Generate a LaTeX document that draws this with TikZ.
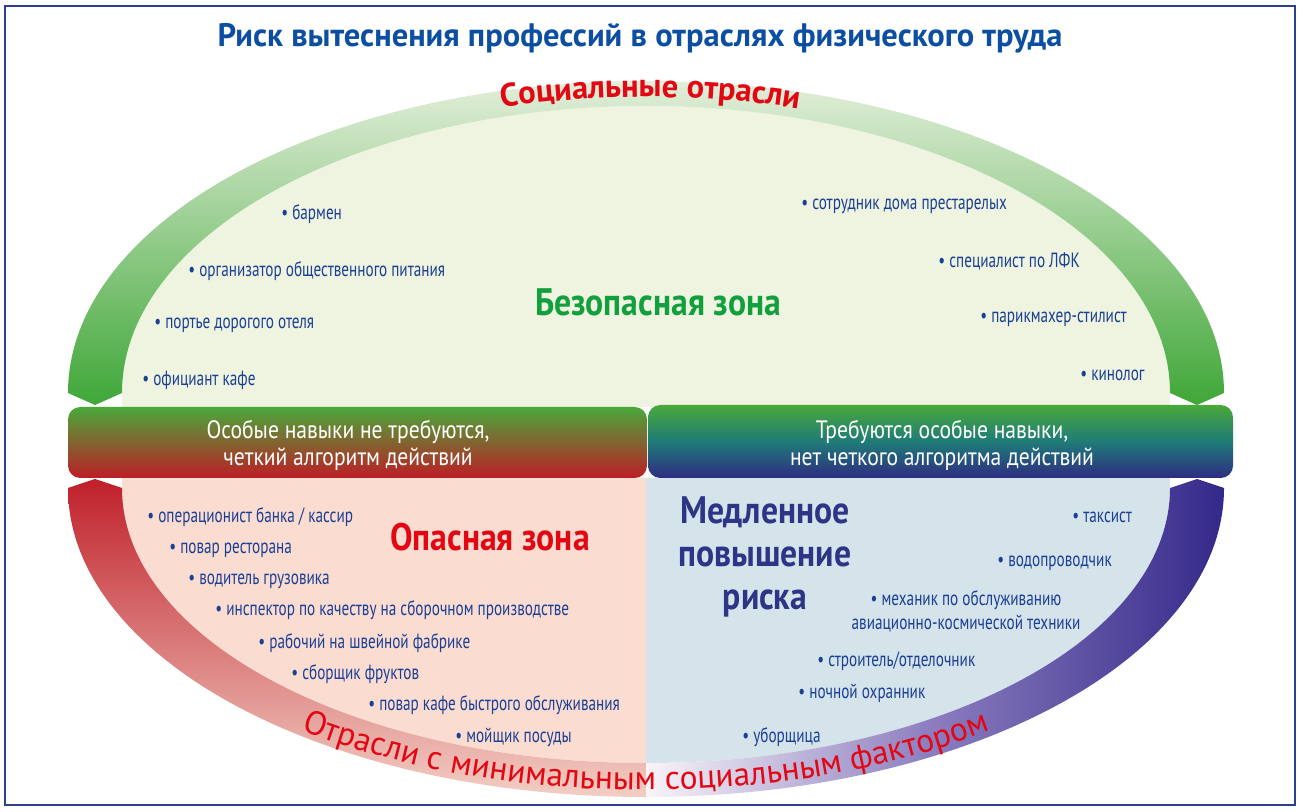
\documentclass[tikz,border=0pt]{standalone}
\usepackage{fontspec}
\setmainfont{PT Sans}
\newfontfamily\narrowfont[FakeStretch=0.74]{PT Sans}
\newfontfamily\barfont[FakeStretch=0.86]{PT Sans}
\newfontfamily\zonefont[FakeStretch=0.88]{PT Sans}
\usetikzlibrary{calc,%
                decorations.text}

\definecolor{titleblue}{HTML}{0B4EA2}
\definecolor{jobblue}{HTML}{1B3F94}
\definecolor{frameblue}{HTML}{2E3F8E}
\definecolor{arcred}{HTML}{E30613}
\definecolor{safegreen}{HTML}{12A03C}
\definecolor{slownavy}{HTML}{2E3586}
\definecolor{safefill}{HTML}{EEF4E0}
\definecolor{dangerfill}{HTML}{FADCD0}
\definecolor{slowfill}{HTML}{D5E3EA}
\definecolor{bandlight}{HTML}{E2EEDA}
\definecolor{bandgreen}{HTML}{3FA737}
\definecolor{bargreen}{HTML}{4AA83A}
\definecolor{barred}{HTML}{BC1E26}
\definecolor{barteal}{HTML}{1F7B78}
\definecolor{barnavy}{HTML}{2E2C82}
\definecolor{dangerred}{HTML}{C0202A}
\definecolor{dangerpale}{HTML}{F2CEC4}
\definecolor{lilacpale}{HTML}{F8F4F8}
\definecolor{lilacmid}{HTML}{8A7CBE}
\definecolor{slowpurple}{HTML}{34298A}

\begin{document}
\begin{tikzpicture}[x=0.02cm,y=0.02cm]
  \tikzstyle{job}=[anchor=base west,inner sep=0pt,text=jobblue,font=\narrowfont\fontsize{11.7}{13.6}\selectfont]
  \tikzstyle{skilltext}=[align=center,inner sep=0pt,text=white,font=\barfont\fontsize{14.3}{15.3}\selectfont]
  \tikzstyle{zonelabel}=[align=center,inner sep=0pt,font=\zonefont\bfseries\fontsize{21.8}{24.4}\selectfont]
  \useasboundingbox (0,0) rectangle (1300,811);
  \draw[frameblue,line width=0.9pt] (5,6) rectangle (1295,805);
  \node[text=titleblue,font=\bfseries\fontsize{18.5}{21}\selectfont] (title) at (640,773)
    {Риск вытеснения профессий в отраслях физического труда};
  \coordinate (topc) at (646,418);
  \coordinate (botc) at (646,323);
  % zone fills
  \fill[safefill] (122,404) -- (122,418) arc[start angle=180,end angle=0,x radius=524,y radius=287] -- (1170,404) -- cycle;
  \fill[dangerfill] (122,333) -- (122,323) arc[start angle=180,end angle=270,x radius=524,y radius=275] -- (646,333) -- cycle;
  \fill[slowfill] (646,333) -- (646,48) arc[start angle=270,end angle=360,x radius=524,y radius=275] -- (1170,333) -- cycle;
  % arrow bands
  \shade[top color=bandlight,bottom color=bandgreen]
    (68,418) arc[start angle=180,end angle=0,x radius=578,y radius=312]
    -- (1197,406) -- (1170,418)
    arc[start angle=0,end angle=180,x radius=524,y radius=287]
    -- (95,406) -- cycle;
  \shade[top color=dangerred,bottom color=dangerpale]
    (122,323) -- (95,332) -- (68,323)
    arc[start angle=180,end angle=270,x radius=578,y radius=309]
    -- (646,48)
    arc[start angle=270,end angle=180,x radius=524,y radius=275]
    -- cycle;
  \shade[left color=lilacpale,right color=slowpurple,middle color=lilacmid]
    (646,14) arc[start angle=270,end angle=360,x radius=578,y radius=309]
    -- (1197,332) -- (1170,323)
    arc[start angle=0,end angle=-90,x radius=524,y radius=275]
    -- cycle;
  % skill bars
  \shade[top color=bargreen,bottom color=barred,rounded corners=7pt] (68,333) rectangle (647,404);
  \shade[top color=bargreen,bottom color=barnavy,middle color=barteal,rounded corners=7pt] (648,333) rectangle (1233,406);
  \node[skilltext] (noskill) at (348,366) {Особые навыки не требуются,\\четкий алгоритм действий};
  \node[skilltext] (skill) at (942,366) {Требуются особые навыки,\\нет четкого алгоритма действий};
  % zone names
  \node[zonelabel,text=safegreen] (safe) at (658,509) {Безопасная зона};
  \node[zonelabel,text=arcred] (danger) at (490,274) {Опасная зона};
  \node[zonelabel,text=slownavy] (slow) at (765,254) {Медленное\\повышение\\риска};
  % safe zone jobs
  \node[job] (barmen) at (281,591) {• бармен};
  \node[job] (catering) at (188,534) {• организатор общественного питания};
  \node[job] (porter) at (154,482) {• портье дорогого отеля};
  \node[job] (waiter) at (142,425) {• официант кафе};
  \node[job] (carer) at (801,601) {• сотрудник дома престарелых};
  \node[job] (physio) at (938,543) {• специалист по ЛФК};
  \node[job] (stylist) at (980,488) {• парикмахер-стилист};
  \node[job] (dogs) at (1080,430) {• кинолог};
  % danger zone jobs
  \node[job] (cashier) at (147,288) {• операционист банка / кассир};
  \node[job] (cook) at (169,257) {• повар ресторана};
  \node[job] (driver) at (188,226) {• водитель грузовика};
  \node[job] (inspector) at (215,195) {• инспектор по качеству на сборочном производстве};
  \node[job] (sewer) at (258,163) {• рабочий на швейной фабрике};
  \node[job] (picker) at (291,132) {• сборщик фруктов};
  \node[job] (fastfood) at (368,101) {• повар кафе быстрого обслуживания};
  \node[job] (washer) at (455,69) {• мойщик посуды};
  % slow zone jobs
  \node[job] (taxi) at (1072,288) {• таксист};
  \node[job] (plumber) at (997,244) {• водопроводчик};
  \node[job,anchor=center,align=center] (mechanic) at (966,200) {• механик по обслуживанию\\авиационно-космической техники};
  \node[job] (builder) at (817,145) {• строитель/отделочник};
  \node[job] (guard) at (798,113) {• ночной охранник};
  \node[job] (cleaner) at (742,69) {• уборщица};
  % arc captions
  \path[decorate,decoration={text along path,text align=center,text color=arcred,
      text={|\bfseries\fontsize{18.5}{21}\selectfont|Социальные отрасли}}]
    ($(topc)+(125:550 and 296)$) arc[start angle=125,end angle=54,x radius=550,y radius=296];
  \path[decorate,decoration={text along path,text align=center,text color=arcred,
      text={|\fontsize{19}{22}\selectfont|Отрасли с минимальным социальным фактором}}]
    ($(botc)+(215:578 and 302)$) arc[start angle=215,end angle=325,x radius=578,y radius=302];
\end{tikzpicture}
\end{document}
